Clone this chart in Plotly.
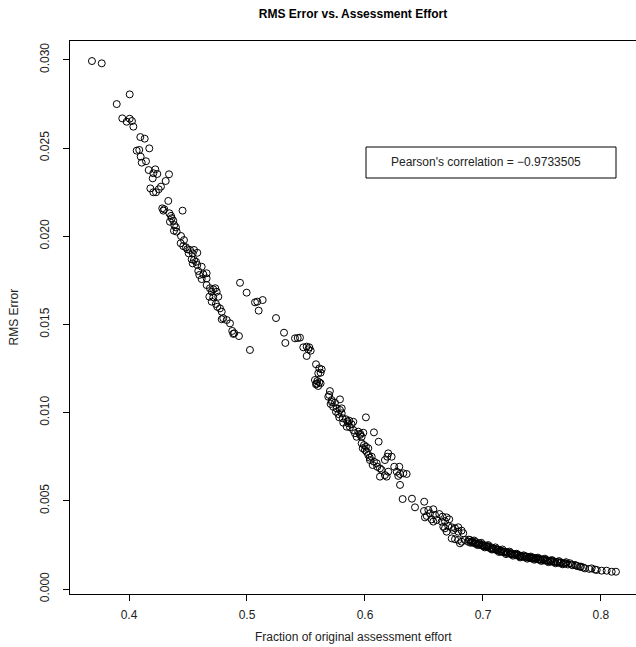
import plotly.graph_objects as go

# Fraction of original assessment effort (x) and RMS error (y)
effort_top = [0.3686, 0.3769, 0.3896, 0.4006, 0.3943, 0.3980, 0.4006, 0.4025, 0.4037, 0.4096,
              0.4133, 0.4172, 0.4065, 0.4087, 0.4099, 0.4144, 0.4108, 0.4167, 0.4223, 0.4206,
              0.4240, 0.4339, 0.4201, 0.4311, 0.4181, 0.4206, 0.4229, 0.4271, 0.4252, 0.4333,
              0.4282, 0.4291, 0.4299, 0.4454, 0.4342, 0.4356, 0.4362, 0.4347, 0.4375, 0.4384,
              0.4398, 0.4381, 0.4404]
rms_top = [0.02993, 0.02980, 0.02749, 0.02804, 0.02668, 0.02649, 0.02666, 0.02653, 0.02621, 0.02562,
           0.02553, 0.02498, 0.02485, 0.02489, 0.02451, 0.02425, 0.02417, 0.02375, 0.02379, 0.02357,
           0.02353, 0.02351, 0.02328, 0.02313, 0.02271, 0.02249, 0.02249, 0.02281, 0.02266, 0.02200,
           0.02158, 0.02145, 0.02153, 0.02145, 0.02130, 0.02115, 0.02102, 0.02082, 0.02088, 0.02063,
           0.02050, 0.02031, 0.02026]

effort_mid = [0.4441, 0.4466, 0.4438, 0.4460, 0.4483, 0.4494, 0.4517, 0.4551, 0.4579, 0.4540,
              0.4506, 0.4531, 0.4551, 0.4568, 0.4540, 0.4579, 0.4616, 0.4587, 0.4630, 0.4658,
              0.4596, 0.4616, 0.4658, 0.4658, 0.4686, 0.4714, 0.4731, 0.4701, 0.4681, 0.4714,
              0.4757, 0.4743, 0.4701, 0.4737, 0.4748, 0.4771, 0.4786, 0.4799, 0.4786, 0.4828,
              0.4856, 0.4875, 0.4892, 0.4932, 0.4884]
rms_mid = [0.02001, 0.01978, 0.01960, 0.01944, 0.01937, 0.01926, 0.01922, 0.01922, 0.01906, 0.01903,
           0.01903, 0.01869, 0.01865, 0.01855, 0.01846, 0.01837, 0.01827, 0.01803, 0.01784, 0.01790,
           0.01780, 0.01757, 0.01761, 0.01723, 0.01705, 0.01699, 0.01705, 0.01685, 0.01657, 0.01654,
           0.01657, 0.01685, 0.01629, 0.01616, 0.01600, 0.01591, 0.01572, 0.01535, 0.01529, 0.01525,
           0.01506, 0.01463, 0.01450, 0.01434, 0.01446]

effort_side = [0.4941, 0.4997, 0.5068, 0.5087, 0.5133, 0.5099, 0.5246, 0.5314, 0.5325, 0.5407,
               0.5430, 0.5449, 0.5477, 0.5506, 0.5528, 0.5540, 0.5520, 0.5506, 0.5025]
rms_side = [0.01736, 0.01680, 0.01625, 0.01629, 0.01638, 0.01578, 0.01536, 0.01453, 0.01395, 0.01421,
            0.01423, 0.01425, 0.01370, 0.01374, 0.01370, 0.01351, 0.01359, 0.01321, 0.01355]

effort_steep = [0.5585, 0.5613, 0.5633, 0.5604, 0.5624, 0.5576, 0.5596, 0.5613, 0.5585, 0.5604,
                0.5624, 0.5590, 0.5703, 0.5697, 0.5689, 0.5718, 0.5746, 0.5709, 0.5788, 0.5720,
                0.5731, 0.5760, 0.5788, 0.5754, 0.5774, 0.5803, 0.5803, 0.5782, 0.5811, 0.5839,
                0.5867, 0.5816, 0.5858, 0.5887, 0.5901, 0.5873, 0.5845, 0.5850, 0.6008, 0.5901,
                0.5915, 0.5943, 0.5958, 0.5986, 0.5929, 0.5972, 0.5960, 0.6076, 0.6116, 0.5972,
                0.5992, 0.6008, 0.5981, 0.6000, 0.6028, 0.6014, 0.6028, 0.6057, 0.6042, 0.6076,
                0.6065, 0.6099, 0.6104, 0.6127, 0.6040, 0.6197, 0.6226, 0.6169, 0.6189, 0.6141,
                0.6169, 0.6184, 0.6127, 0.6197, 0.6248, 0.6291, 0.6269, 0.6297, 0.6325, 0.6353,
                0.6282]
rms_steep = [0.01274, 0.01251, 0.01245, 0.01223, 0.01226, 0.01185, 0.01179, 0.01172, 0.01160, 0.01151,
             0.01166, 0.01165, 0.01122, 0.01100, 0.01090, 0.01071, 0.01056, 0.01049, 0.01075, 0.01060,
             0.01033, 0.01024, 0.01015, 0.01005, 0.00992, 0.01024, 0.00996, 0.00973, 0.00968, 0.00962,
             0.00954, 0.00943, 0.00939, 0.00934, 0.00948, 0.00917, 0.00920, 0.00950, 0.00973, 0.00901,
             0.00883, 0.00892, 0.00873, 0.00886, 0.00863, 0.00863, 0.00880, 0.00888, 0.00835, 0.00826,
             0.00816, 0.00807, 0.00798, 0.00788, 0.00798, 0.00778, 0.00760, 0.00750, 0.00731, 0.00722,
             0.00703, 0.00713, 0.00693, 0.00684, 0.00745, 0.00769, 0.00750, 0.00731, 0.00750, 0.00675,
             0.00646, 0.00637, 0.00637, 0.00665, 0.00693, 0.00693, 0.00665, 0.00652, 0.00656, 0.00652,
             0.00641]

effort_knee = [0.6297, 0.6319, 0.6398, 0.6502, 0.6424, 0.6500, 0.6537, 0.6579, 0.6551, 0.6523,
               0.6508, 0.6593, 0.6630, 0.6658, 0.6692, 0.6714, 0.6607, 0.6650, 0.6678, 0.6579,
               0.6565, 0.6664, 0.6706, 0.6735, 0.6763, 0.6791, 0.6749, 0.6791, 0.6819, 0.6833,
               0.6692, 0.6678, 0.6735, 0.6763, 0.6791, 0.6819, 0.6805, 0.6847, 0.6875, 0.6890]
rms_knee = [0.00590, 0.00510, 0.00512, 0.00495, 0.00463, 0.00442, 0.00448, 0.00452, 0.00429, 0.00414,
            0.00406, 0.00420, 0.00425, 0.00410, 0.00406, 0.00395, 0.00391, 0.00382, 0.00385, 0.00382,
            0.00395, 0.00353, 0.00357, 0.00350, 0.00344, 0.00350, 0.00334, 0.00325, 0.00331, 0.00316,
            0.00325, 0.00344, 0.00287, 0.00282, 0.00278, 0.00268, 0.00259, 0.00278, 0.00268, 0.00278]

effort_tail = [0.688, 0.690, 0.691, 0.693, 0.694, 0.696, 0.697, 0.699, 0.700, 0.701,
               0.703, 0.704, 0.705, 0.707, 0.708, 0.709, 0.711, 0.712, 0.713, 0.715,
               0.716, 0.717, 0.719, 0.720, 0.721, 0.723, 0.724, 0.725, 0.727, 0.728,
               0.729, 0.731, 0.732, 0.733, 0.735, 0.736, 0.737, 0.739, 0.740, 0.741,
               0.743, 0.744, 0.745, 0.747, 0.748, 0.749, 0.751, 0.752, 0.754, 0.755,
               0.757, 0.758, 0.760, 0.761, 0.763, 0.765, 0.766, 0.768, 0.770, 0.772,
               0.7737, 0.776, 0.778, 0.7822, 0.7864, 0.7921, 0.7964, 0.8006, 0.8048, 0.8091,
               0.8127, 0.780, 0.785, 0.790, 0.795]
rms_tail = [0.00280, 0.00268, 0.00271, 0.00260, 0.00266, 0.00255, 0.00259, 0.00248, 0.00252, 0.00243,
            0.00245, 0.00237, 0.00241, 0.00230, 0.00234, 0.00226, 0.00227, 0.00219, 0.00224, 0.00212,
            0.00216, 0.00209, 0.00211, 0.00204, 0.00208, 0.00199, 0.00203, 0.00196, 0.00198, 0.00191,
            0.00195, 0.00185, 0.00189, 0.00182, 0.00186, 0.00179, 0.00184, 0.00176, 0.00180, 0.00174,
            0.00177, 0.00171, 0.00175, 0.00167, 0.00171, 0.00165, 0.00168, 0.00162, 0.00164, 0.00158,
            0.00161, 0.00155, 0.00157, 0.00151, 0.00154, 0.00147, 0.00150, 0.00144, 0.00146, 0.00139,
            0.00146, 0.00135, 0.00136, 0.00126, 0.00117, 0.00117, 0.00108, 0.00104, 0.00104, 0.00098,
            0.00098, 0.00130, 0.00122, 0.00114, 0.00110]

effort_band = [0.6895, 0.6925, 0.6955, 0.6985, 0.7015, 0.7045, 0.7075, 0.7105, 0.7135, 0.7165,
               0.7195, 0.7225, 0.7255, 0.7285, 0.7315, 0.7345, 0.7375, 0.7405, 0.7435, 0.7465,
               0.7495, 0.7525, 0.7555, 0.7585, 0.7615, 0.7645, 0.7675, 0.7705,
               0.6910, 0.6940, 0.6970, 0.7000, 0.7030, 0.7060, 0.7090, 0.7120, 0.7150, 0.7180,
               0.7210, 0.7240, 0.7270, 0.7300, 0.7330, 0.7360, 0.7390, 0.7420, 0.7450, 0.7480,
               0.7510, 0.7540, 0.7570, 0.7600, 0.7630, 0.7660, 0.7690, 0.7750, 0.7790, 0.7830]
rms_band = [0.00262, 0.00275, 0.00249, 0.00262, 0.00236, 0.00249, 0.00224, 0.00236, 0.00210, 0.00224,
            0.00198, 0.00212, 0.00189, 0.00200, 0.00179, 0.00191, 0.00172, 0.00184, 0.00166, 0.00178,
            0.00159, 0.00172, 0.00152, 0.00164, 0.00146, 0.00158, 0.00140, 0.00152,
            0.00264, 0.00256, 0.00251, 0.00244, 0.00239, 0.00232, 0.00227, 0.00220, 0.00216, 0.00210,
            0.00205, 0.00200, 0.00196, 0.00191, 0.00186, 0.00183, 0.00179, 0.00176, 0.00172, 0.00169,
            0.00166, 0.00162, 0.00159, 0.00156, 0.00152, 0.00149, 0.00145, 0.00138, 0.00133, 0.00127]

effort = effort_top + effort_mid + effort_side + effort_steep + effort_knee + effort_tail + effort_band
rms = rms_top + rms_mid + rms_side + rms_steep + rms_knee + rms_tail + rms_band

x_ticks = [0.4, 0.5, 0.6, 0.7, 0.8]
y_ticks = [0.000, 0.005, 0.010, 0.015, 0.020, 0.025, 0.030]
y_tick_text = ["0.000", "0.005", "0.010", "0.015", "0.020", "0.025", "0.030"]

FONT = "Liberation Sans, Arial, Helvetica, sans-serif"

fig = go.Figure(go.Scatter(
    x=effort, y=rms, mode="markers",
    marker=dict(symbol="circle-open", size=7, color="black", line=dict(width=1, color="black")),
    hoverinfo="x+y",
))

fig.update_layout(
    width=636, height=647,
    margin=dict(l=70, r=0, t=41, b=53),
    paper_bgcolor="white", plot_bgcolor="white",
    showlegend=False,
    font=dict(family=FONT, size=12, color="black"),
    title=dict(text="<b>RMS Error vs. Assessment Effort</b>", x=0.5, xref="paper",
               y=1 - 14 / 647, yref="container", xanchor="center", yanchor="middle",
               font=dict(size=12, family=FONT, color="black")),
    xaxis=dict(range=[0.35, 0.8297], tickvals=x_ticks, ticktext=[f"{v:.1f}" for v in x_ticks],
               ticks="outside", ticklen=6, tickcolor="black", showline=True, linecolor="black",
               linewidth=1, mirror=True, showgrid=False, zeroline=False,
               tickfont=dict(size=12, color="#222"), ticklabelstandoff=4),
    yaxis=dict(range=[-0.000283, 0.031066], tickvals=y_ticks, ticktext=y_tick_text,
               ticks="outside", ticklen=6, tickcolor="black", showline=True, linecolor="black",
               linewidth=1, mirror=False, showgrid=False, zeroline=False, tickangle=-90,
               tickfont=dict(size=12, color="#222"), ticklabelstandoff=9),
)

# axis titles
fig.add_annotation(text="Fraction of original assessment effort", xref="paper", yref="paper",
                   x=0.5, y=-43 / 553, xanchor="center", yanchor="middle", showarrow=False,
                   font=dict(size=12, color="#222"))
fig.add_annotation(text="RMS Error", xref="paper", yref="paper", x=(13 - 70) / 566, y=0.5,
                   textangle=-90, xanchor="center", yanchor="middle", showarrow=False,
                   font=dict(size=12, color="#222"))

# correlation legend box
fig.add_shape(type="rect", xref="paper", yref="paper",
              x0=(366 - 70) / 566, x1=(616 - 70) / 566,
              y0=(594 - 178) / 553, y1=(594 - 147) / 553,
              line=dict(color="black", width=1), fillcolor="rgba(0,0,0,0)")
fig.add_annotation(text="Pearson's correlation = \u22120.9733505", xref="paper", yref="paper",
                   x=(389 - 70) / 566, y=(594 - 162) / 553, xanchor="left", yanchor="middle",
                   showarrow=False, font=dict(size=12, color="#222"))

fig.write_html("out.html")
